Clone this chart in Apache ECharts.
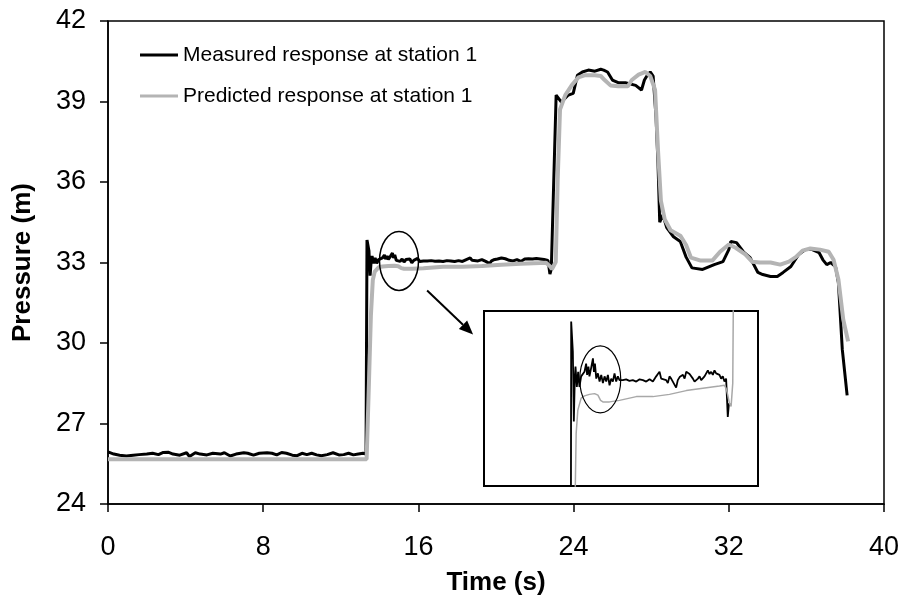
<!DOCTYPE html>
<html>
<head>
<meta charset="utf-8">
<script src="https://cdn.jsdelivr.net/npm/echarts@6/dist/echarts.min.js"></script>
<style>html,body{margin:0;padding:0;background:#fff}#c{width:903px;height:601px}</style>
</head>
<body>
<div id="c"></div>
<script>
// ---- data (time s, pressure m) ----
var measured = [
[0,25.94],[0.3,25.86],[0.6,25.82],[0.95,25.79],[1.3,25.82],[1.6,25.84],[2.0,25.86],[2.3,25.89],[2.6,25.84],[2.85,25.92],[3.1,25.93],[3.35,25.86],[3.7,25.82],[4.05,25.91],[4.2,25.77],[4.5,25.91],[4.75,25.86],[5.1,25.83],[5.4,25.89],[5.8,25.86],[6.0,25.91],[6.3,25.79],[6.6,25.86],[7.0,25.91],[7.2,25.89],[7.5,25.82],[7.8,25.89],[8.2,25.91],[8.45,25.89],[8.7,25.83],[8.95,25.92],[9.2,25.89],[9.5,25.82],[9.75,25.8],[10.0,25.89],[10.25,25.84],[10.5,25.89],[10.75,25.83],[11.0,25.8],[11.3,25.84],[11.6,25.91],[11.9,25.83],[12.15,25.84],[12.4,25.89],[12.65,25.83],[12.9,25.86],[13.15,25.89],[13.3,25.86],
[13.35,33.84],[13.45,33.44],[13.51,32.51],[13.57,33.11],[13.61,33.24],[13.69,32.97],[13.77,33.17],[13.85,32.97],[13.95,33.11],[14.05,33.13],[14.15,33.17],[14.25,33.28],[14.31,33.13],[14.39,33.24],[14.45,33.11],[14.55,33.22],[14.66,33.35],[14.72,33.17],[14.78,33.28],[14.86,33.08],[14.96,33.15],[15.06,33.04],[15.16,33.13],[15.26,33.02],[15.36,33.11],[15.46,33.04],[15.56,33.13],[15.66,32.99],[15.76,33.08],[15.86,33.04],[15.96,33.15],[16.06,33.04],[16.16,33.11],[16.26,33.06],[16.36,33.08],[16.46,33.06],[16.66,33.07],[16.86,33.05],[17.06,33.06],[17.27,33.04],[17.47,33.07],[17.67,33.06],[17.87,33.04],[18.07,33.07],[18.27,33.04],[18.47,33.11],[18.57,33.14],[18.67,33.17],[18.77,33.08],[18.87,33.07],[19.07,33.06],[19.17,33.02],[19.27,33.11],[19.37,33.08],[19.47,33.04],[19.57,33.06],[19.67,32.96],[19.77,33.06],[19.88,33.1],[19.98,33.08],[20.08,33.13],[20.18,33.08],[20.28,33.17],[20.38,33.19],[20.48,33.14],[20.58,33.16],[20.68,33.08],[20.78,33.04],[20.88,33.06],[20.98,33.08],[21.08,33.11],[21.18,33.06],[21.28,33.04],[21.38,33.11],[21.48,33.13],[21.58,33.19],[21.68,33.14],[21.78,33.17],[21.88,33.13],[21.98,33.19],[22.08,33.15],[22.18,33.17],[22.28,33.13],[22.38,33.08],[22.48,33.11],[22.58,33.04],[22.68,33.08],[22.78,32.57],[22.85,32.75],[22.93,32.73],
[23.1,39.24],[23.37,38.98],[23.73,39.24],[23.98,39.3],[24.2,39.98],[24.45,40.1],[24.76,40.17],[25.1,40.13],[25.4,40.2],[25.55,40.17],[25.75,40.1],[26.0,39.8],[26.3,39.7],[26.67,39.7],[27.2,39.6],[27.5,39.43],[27.65,39.8],[27.8,39.98],[27.95,40.1],[28.1,39.95],[28.25,38.4],[28.35,36.7],[28.44,34.5],[28.6,34.78],[28.8,34.3],[29.15,33.96],[29.5,33.78],[29.8,33.2],[30.1,32.8],[30.65,32.74],[31.25,32.92],[31.7,33.03],[32.0,33.48],[32.1,33.78],[32.4,33.74],[32.75,33.4],[33.1,33.18],[33.5,32.63],[33.75,32.55],[34.15,32.48],[34.5,32.48],[34.8,32.63],[35.2,32.85],[35.6,33.3],[35.95,33.48],[36.3,33.48],[36.65,33.37],[36.85,33.1],[37.05,32.92],[37.25,33.0],[37.5,32.85],[37.65,32.25],[37.85,29.76],[38.1,28.05]
];
var predicted = [
[0,25.67],[13.33,25.67],[13.45,28.5],[13.55,31.0],[13.65,32.35],[13.75,32.66],[13.95,32.82],[14.15,32.85],[14.45,32.87],[14.76,32.88],[14.96,32.86],[15.12,32.79],[15.26,32.77],[15.66,32.77],[16.26,32.79],[17.27,32.84],[18.27,32.84],[19.27,32.87],[20.28,32.92],[21.28,32.95],[22.28,32.98],[22.58,32.99],[22.68,32.95],[22.78,32.86],[22.88,32.75],[22.98,32.71],[23.08,33.02],[23.18,36.1],[23.3,38.7],[23.57,39.24],[23.9,39.6],[24.25,39.9],[24.6,39.98],[25.1,39.98],[25.4,39.95],[25.6,39.8],[25.9,39.6],[26.3,39.57],[26.8,39.57],[27.0,39.8],[27.35,40.0],[27.7,40.1],[27.95,39.95],[28.2,39.43],[28.35,37.2],[28.5,35.3],[28.7,34.6],[29.0,34.2],[29.5,34.0],[29.8,33.65],[30.05,33.18],[30.55,33.07],[31.15,33.07],[31.55,33.4],[32.0,33.67],[32.35,33.55],[32.85,33.3],[33.2,33.03],[33.6,33.0],[34.15,33.0],[34.65,32.92],[35.1,33.03],[35.45,33.2],[35.8,33.44],[36.2,33.52],[36.7,33.48],[37.15,33.4],[37.4,33.1],[37.65,32.37],[37.9,30.87],[38.15,30.06]
];
var seriesNames = ['Measured response at station 1', 'Predicted response at station 1'];
var xTitle = 'Time (s)';
var yTitle = 'Pressure (m)';
var insetEnd = 22.95;

var FONT = 'Liberation Sans, Arial, sans-serif';
var chart = echarts.init(document.getElementById('c'));
var axisCommon = {
  axisLine: {show: true, lineStyle: {color: '#000', width: 1.5}},
  axisTick: {show: true, inside: false, length: 8, lineStyle: {color: '#000', width: 1.5}},
  splitLine: {show: false},
  axisLabel: {color: '#000', fontSize: 27, fontFamily: FONT},
  nameTextStyle: {color: '#000', fontSize: 26, fontWeight: 'bold', fontFamily: FONT}
};
chart.setOption({
  animation: false,
  backgroundColor: '#fff',
  grid: [
    {left: 108, top: 21, right: 19, bottom: 96, show: true, borderColor: '#000', borderWidth: 1.5, backgroundColor: 'transparent'},
    {left: 484, top: 311, width: 274, height: 175, show: true, borderColor: '#000', borderWidth: 2, backgroundColor: '#fff', z: 5}
  ],
  xAxis: [
    Object.assign({}, axisCommon, {type: 'value', gridIndex: 0, min: 0, max: 40, interval: 8,
      name: xTitle, nameLocation: 'middle', nameGap: 66,
      axisLabel: Object.assign({}, axisCommon.axisLabel, {margin: 30})}),
    {type: 'value', gridIndex: 1, min: 8.1, max: 24.6, show: false, splitLine: {show: false}}
  ],
  yAxis: [
    Object.assign({}, axisCommon, {type: 'value', gridIndex: 0, min: 24, max: 42, interval: 3,
      name: yTitle, nameLocation: 'middle', nameGap: 72,
      axisLabel: Object.assign({}, axisCommon.axisLabel, {margin: 22})}),
    {type: 'value', gridIndex: 1, min: 31.65, max: 33.98, show: false, splitLine: {show: false}}
  ],
  legend: {
    data: seriesNames, orient: 'vertical', left: 140, top: 43, itemGap: 17, padding: 0,
    icon: 'rect', itemWidth: 38, itemHeight: 3,
    textStyle: {color: '#000', fontSize: 21, fontFamily: FONT, lineHeight: 24}
  },
  series: [
    {name: seriesNames[0], type: 'line', xAxisIndex: 0, yAxisIndex: 0, data: measured, symbol: 'none',
      lineStyle: {color: '#000', width: 3}, itemStyle: {color: '#000'}, z: 2},
    {name: seriesNames[1], type: 'line', xAxisIndex: 0, yAxisIndex: 0, data: predicted, symbol: 'none',
      lineStyle: {color: '#b4b4b4', width: 4}, itemStyle: {color: '#b4b4b4'}, z: 3},
    {name: 'inset-measured', type: 'line', xAxisIndex: 1, yAxisIndex: 1,
      data: measured.filter(function (p) { return p[0] <= insetEnd; }), symbol: 'none', clip: true,
      lineStyle: {color: '#000', width: 1.8}, z: 6},
    {name: 'inset-predicted', type: 'line', xAxisIndex: 1, yAxisIndex: 1, data: predicted, symbol: 'none', clip: true,
      lineStyle: {color: '#a8a8a8', width: 1.5}, z: 6}
  ]
});

// annotations: ellipses around the oscillation, arrow to the inset
var c0 = chart.convertToPixel({gridIndex: 0}, [15.0, 33.06]);
var c1 = chart.convertToPixel({gridIndex: 1}, [15.1, 33.07]);
var a0 = chart.convertToPixel({gridIndex: 0}, [16.45, 31.96]);
var a1 = chart.convertToPixel({gridIndex: 0}, [18.82, 30.32]);
var dx = a1[0] - a0[0], dy = a1[1] - a0[1], L = Math.sqrt(dx * dx + dy * dy);
var ux = dx / L, uy = dy / L, hl = 14, hw = 6;
var bx = a1[0] - ux * hl, by = a1[1] - uy * hl;
chart.setOption({
  graphic: [
    {type: 'ellipse', shape: {cx: c0[0], cy: c0[1], rx: 19.5, ry: 29.5}, style: {fill: 'none', stroke: '#000', lineWidth: 1.5}, z: 10},
    {type: 'ellipse', shape: {cx: c1[0], cy: c1[1], rx: 20.5, ry: 33.5}, style: {fill: 'none', stroke: '#000', lineWidth: 1.2}, z: 10},
    {type: 'line', shape: {x1: a0[0], y1: a0[1], x2: bx, y2: by}, style: {stroke: '#000', lineWidth: 2}, z: 10},
    {type: 'polygon', shape: {points: [[a1[0], a1[1]], [bx - uy * hw, by + ux * hw], [bx + uy * hw, by - ux * hw]]}, style: {fill: '#000'}, z: 10}
  ]
});
</script>
</body>
</html>
